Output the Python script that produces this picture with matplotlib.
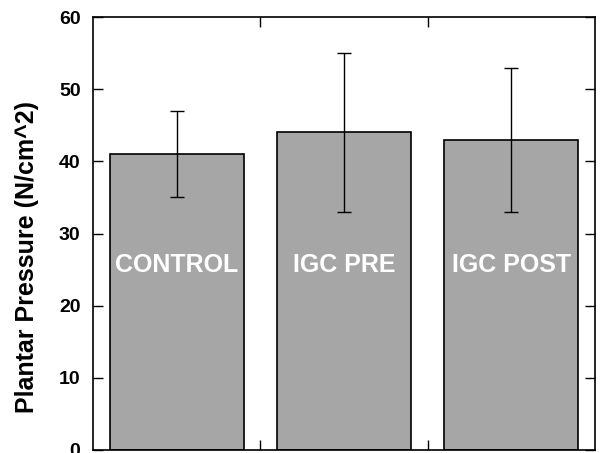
import matplotlib
matplotlib.use("Agg")
import matplotlib.pyplot as plt

plt.rcParams['font.family'] = ['Liberation Sans', 'DejaVu Sans']

groups = ["CONTROL", "IGC PRE", "IGC POST"]
pressure = [41, 44, 43]
pressure_err = [6, 11, 10]

fig = plt.figure(figsize=(6.0, 4.53), dpi=100)
ax = fig.add_axes([93 / 600, 3 / 453, 502 / 600, 433 / 453])

xpos = [1, 2, 3]
ax.bar(xpos, pressure, width=0.8, color='#a6a6a6', edgecolor='black', linewidth=1.2,
       yerr=pressure_err, error_kw=dict(ecolor='black', elinewidth=1, capsize=5, capthick=1))

# group names written inside the bars
for x, name in zip(xpos, groups):
    ax.text(x, 25.6, name, color='white', fontsize=18, fontweight='bold',
            ha='center', va='center')

ax.set_xlim(0.5, 3.5)
ax.set_ylim(0, 60)
ax.set_yticks([0, 10, 20, 30, 40, 50, 60])
ax.set_xticks([1.5, 2.5])
ax.set_xticklabels([])
ax.tick_params(direction='in', top=True, right=True, length=7, width=1)
ax.tick_params(axis='y', labelsize=14, pad=9)
for lbl in ax.get_yticklabels():
    lbl.set_fontweight('bold')
for s in ax.spines.values():
    s.set_linewidth(1.2)

ax.set_ylabel("Plantar Pressure (N/cm^2)", fontsize=18, fontweight='bold', labelpad=14)
ax.yaxis.label.set_y(0.445)

fig.savefig("out.png", dpi=100)
